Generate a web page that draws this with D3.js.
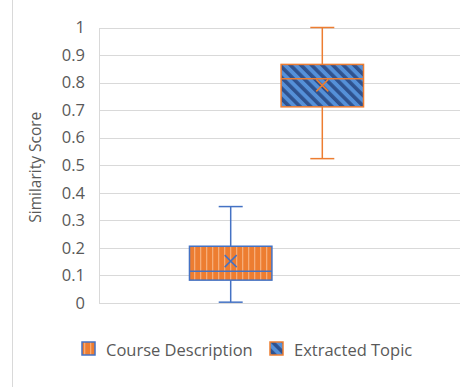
<!DOCTYPE html>
<html>
<head>
<meta charset="utf-8">
<script src="https://cdn.jsdelivr.net/npm/d3@7"></script>
<style>
  body { margin: 0; background: #fff; }
  text { font-family: "Open Sans", sans-serif; fill: #595959; }
</style>
</head>
<body>
<div id="chart"></div>
<script>
// box plot stats per series
var categories = ["Similarity"];
var seriesNames = ["Course Description", "Extracted Topic"];
var minVals = [0.003, 0.524];
var q1Vals = [0.083, 0.712];
var medianVals = [0.115, 0.814];
var q3Vals = [0.206, 0.866];
var maxVals = [0.35, 1.0];
var meanVals = [0.152, 0.79];
var yTicks = [0, 0.1, 0.2, 0.3, 0.4, 0.5, 0.6, 0.7, 0.8, 0.9, 1];

var width = 462, height = 387;
var margin = {left: 99, right: 2, top: 27.5, bottom: 84};

var svg = d3.select("#chart").append("svg")
    .attr("width", width)
    .attr("height", height);

svg.append("rect").attr("width", width).attr("height", height).attr("fill", "#fff");

// patterns
var defs = svg.append("defs");
var p1 = defs.append("pattern")
    .attr("id", "vstripe")
    .attr("patternUnits", "userSpaceOnUse")
    .attr("width", 6).attr("height", 6);
p1.append("rect").attr("width", 6).attr("height", 6).attr("fill", "#ED7D31");
p1.append("rect").attr("x", 2).attr("width", 1.3).attr("height", 6).attr("fill", "#F6AC78");

var p2 = defs.append("pattern")
    .attr("id", "dstripe")
    .attr("patternUnits", "userSpaceOnUse")
    .attr("width", 7.5).attr("height", 7.5)
    .attr("patternTransform", "rotate(-45)");
p2.append("rect").attr("width", 7.5).attr("height", 7.5).attr("fill", "#5590D8");
p2.append("rect").attr("width", 3.6).attr("height", 7.5).attr("fill", "#2F528F");

var fills = ["url(#vstripe)", "url(#dstripe)"];
var strokes = ["#4472C4", "#ED7D31"];

// left frame line
svg.append("line")
    .attr("x1", 12.5).attr("x2", 12.5)
    .attr("y1", 0).attr("y2", height)
    .attr("stroke", "#D9D9D9");

var y = d3.scaleLinear()
    .domain([0, 1])
    .range([height - margin.bottom, margin.top]);

var x = d3.scaleBand()
    .domain(categories)
    .range([margin.left, width - margin.right - 6])
    .padding(0.342);

var xs = d3.scaleBand()
    .domain(seriesNames)
    .range([x(categories[0]), x(categories[0]) + x.bandwidth()])
    .paddingInner(0.1);

// gridlines
svg.append("g")
    .selectAll("line")
    .data(yTicks)
    .enter()
        .append("line")
        .attr("x1", margin.left)
        .attr("x2", width - margin.right)
        .attr("y1", function(d) { return Math.round(y(d)) + 0.5; })
        .attr("y2", function(d) { return Math.round(y(d)) + 0.5; })
        .attr("stroke", "#D9D9D9");

svg.append("line")
    .attr("x1", margin.left + 0.5).attr("x2", margin.left + 0.5)
    .attr("y1", Math.round(y(1)) + 0.5).attr("y2", Math.round(y(0)) + 0.5)
    .attr("stroke", "#D9D9D9");

// y axis labels
var yAxis = d3.axisLeft(y).tickValues(yTicks).tickSize(0).tickPadding(14)
    .tickFormat(function(d) { return d3.format("")(+d.toFixed(1)); });
var ag = svg.append("g")
    .attr("transform", "translate(" + margin.left + ",0)")
    .call(yAxis);
ag.select(".domain").remove();
ag.selectAll("text")
    .style("font-family", "Open Sans, sans-serif")
    .style("font-size", "16.5px")
    .attr("fill", "#595959");

svg.append("text")
    .attr("transform", "translate(41," + (y(0.5) + 2) + ") rotate(-90)")
    .attr("text-anchor", "middle")
    .style("font-size", "15.5px")
    .text("Similarity Score");

// boxes
var boxes = svg.append("g")
    .selectAll("g")
    .data(seriesNames)
    .enter()
        .append("g");

boxes.each(function(name, i) {
    var g = d3.select(this);
    var bx = xs(name);
    var bw = xs.bandwidth();
    var cx = bx + bw / 2;
    var cap = 12;
    var col = strokes[i];

    // whiskers
    g.append("line")
        .attr("x1", cx).attr("x2", cx)
        .attr("y1", y(maxVals[i])).attr("y2", y(q3Vals[i]))
        .attr("stroke", col).attr("stroke-width", 1.5);
    g.append("line")
        .attr("x1", cx).attr("x2", cx)
        .attr("y1", y(q1Vals[i])).attr("y2", y(minVals[i]))
        .attr("stroke", col).attr("stroke-width", 1.5);
    g.append("line")
        .attr("x1", cx - cap).attr("x2", cx + cap)
        .attr("y1", y(maxVals[i])).attr("y2", y(maxVals[i]))
        .attr("stroke", col).attr("stroke-width", 1.5);
    g.append("line")
        .attr("x1", cx - cap).attr("x2", cx + cap)
        .attr("y1", y(minVals[i])).attr("y2", y(minVals[i]))
        .attr("stroke", col).attr("stroke-width", 1.5);

    // box
    g.append("rect")
        .attr("x", bx)
        .attr("y", y(q3Vals[i]))
        .attr("width", bw)
        .attr("height", y(q1Vals[i]) - y(q3Vals[i]))
        .attr("fill", fills[i])
        .attr("stroke", col).attr("stroke-width", 1.5);

    // median
    g.append("line")
        .attr("x1", bx).attr("x2", bx + bw)
        .attr("y1", y(medianVals[i])).attr("y2", y(medianVals[i]))
        .attr("stroke", col).attr("stroke-width", 1.5);

    // mean marker
    var my = y(meanVals[i]), s = 6;
    g.append("path")
        .attr("d", "M" + (cx - s) + "," + (my - s) + "L" + (cx + s) + "," + (my + s) +
                   "M" + (cx - s) + "," + (my + s) + "L" + (cx + s) + "," + (my - s))
        .attr("stroke", col).attr("stroke-width", 1.5).attr("fill", "none");
});

// legend
var legendX = [82, 270];
var legend = svg.append("g")
    .selectAll("g")
    .data(seriesNames)
    .enter()
        .append("g")
        .attr("transform", function(d, i) { return "translate(" + legendX[i] + ",342)"; });

legend.append("rect")
    .attr("width", 13).attr("height", 13)
    .attr("fill", function(d, i) { return fills[i]; })
    .attr("stroke", function(d, i) { return strokes[i]; })
    .attr("stroke-width", 1.5);

legend.append("text")
    .attr("x", 24)
    .attr("y", 13.5)
    .style("font-size", "16.5px")
    .text(function(d) { return d; });
</script>
</body>
</html>
